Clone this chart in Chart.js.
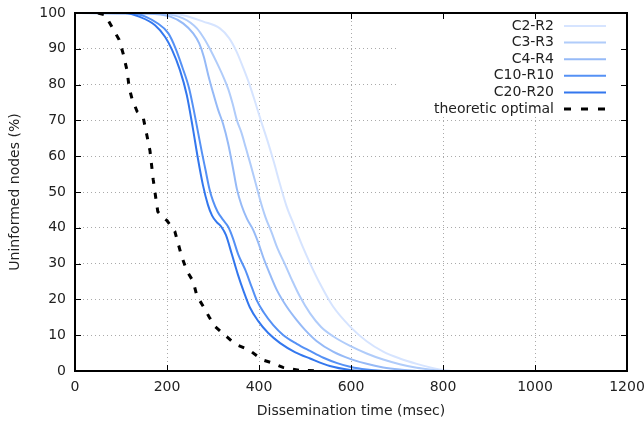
<!DOCTYPE html>
<html>
<head>
<meta charset="utf-8">
<script src="https://cdn.jsdelivr.net/npm/chart.js@4.4.1/dist/chart.umd.min.js"></script>
<style>
  html, body { margin: 0; padding: 0; background: #fff; }
</style>
</head>
<body>
<canvas id="dissChart" width="644" height="426"></canvas>
<script>
// [time (msec), uninformed nodes (%)]
var c2r2 = [[0,100],[180,99.9],[235,99.4],[279,97.6],[315,95.7],[335,93],[351,89.3],[366,84.6],[380,79.8],[392,75],[404,70],[418,64.5],[432,58.5],[446,52],[460,46],[477,40.5],[494,35],[512,29.8],[533,24.3],[561,18],[598,12.4],[634,8.3],[670,5.4],[706,3.5],[743,2],[779,0.8],[800,0.3],[820,0]];
var c3r3 = [[0,100],[170,99.9],[235,98.5],[265,95.7],[280,93],[294,89.8],[308,86.2],[322,82.3],[333,78.8],[343,74.5],[352,70],[362,66.5],[371,62.5],[381,58],[391,53.3],[402,48],[414,43],[428,38.5],[440,34.3],[455,30.2],[471,25.6],[489,20.8],[511,16.1],[535,12.3],[561,9.7],[598,7],[634,4.9],[670,3.2],[706,1.9],[743,0.9],[779,0.3],[800,0]];
var c4r4 = [[0,100],[150,99.8],[207,99],[235,97.1],[257,94.3],[270,91.5],[280,87.8],[290,82.5],[300,77.8],[311,73],[322,69],[333,63.5],[343,57],[352,50.8],[362,46.3],[374,42.5],[387,39.5],[398,36],[410,31.5],[424,27],[440,22.3],[460,18],[482,14.2],[500,11.5],[525,8.4],[561,5.4],[598,3.4],[634,2],[670,1],[706,0.4],[743,0]];
var c10r10 = [[0,100],[123,99.9],[181,97],[203,94.3],[219,90],[233,85],[248,79],[258,73],[267,67],[276,61],[284,56],[292,51],[300,47.5],[310,44.5],[322,42.2],[333,40.3],[343,37.2],[355,32.5],[370,28.3],[384,23.5],[396,19.5],[410,16.4],[431,12.8],[453,10],[482,7.6],[511,5.6],[540,3.7],[570,2.2],[600,1.1],[634,0.4],[670,0]];
var c20r20 = [[0,100],[109,100],[141,98.9],[174,96.6],[196,93.3],[211,89.7],[228,84.1],[243,77.1],[256,68],[267,59.5],[278,52],[289,46.4],[298,43.4],[308,41.6],[318,40.3],[328,38],[341,32.6],[354,27],[367,22.1],[380,17.8],[398,14],[420,10.6],[446,7.8],[478,5.3],[511,3.5],[554,1.4],[598,0.3],[630,0]];
var theoretic = [[50,100],[65,99.5],[83,95.5],[96,92.5],[105,88.5],[113,84],[118,79],[124,76],[135,72.5],[148,71],[156,66],[163,61.5],[170,53.5],[176,48],[180,44.5],[190,43],[200,42],[217,39],[232,32],[243,28],[257,25],[265,21],[279,18],[292,15],[304,12.5],[326,10],[348,7.5],[377,6],[398,4],[410,3],[428,2.3],[452,1],[489,0.2],[530,0]];

var seriesNames = ['C2-R2', 'C3-R3', 'C4-R4', 'C10-R10', 'C20-R20', 'theoretic optimal'];
var seriesData = [c2r2, c3r3, c4r4, c10r10, c20r20, theoretic];
var seriesColors = ['rgb(214,228,255)', 'rgb(176,204,250)', 'rgb(150,186,247)', 'rgb(85,145,245)', 'rgb(51,119,238)', '#000'];

var xTicks = [0, 200, 400, 600, 800, 1000, 1200];
var yTicks = [0, 10, 20, 30, 40, 50, 60, 70, 80, 90, 100];

var FONT = 'DejaVu Sans';
var FSIZE = 14;

function toPoints(arr) {
  return arr.map(function(p) { return {x: p[0], y: p[1]}; });
}

var datasets = seriesData.map(function(arr, i) {
  var dashed = i === seriesData.length - 1;
  return {
    label: seriesNames[i],
    data: toPoints(arr),
    borderColor: seriesColors[i],
    backgroundColor: seriesColors[i],
    borderWidth: dashed ? 3 : 2,
    borderDash: dashed ? [6, 9] : [],
    fill: false,
    pointRadius: 0,
    tension: 0,
    cubicInterpolationMode: dashed ? 'default' : 'monotone'
  };
}).reverse();

// gnuplot-like frame, inward ticks and key inside the plot
var framePlugin = {
  id: 'frame',
  beforeDatasetsDraw: function(chart) {
    var ctx = chart.ctx, a = chart.chartArea;
    ctx.save();
    ctx.fillStyle = '#fff';
    ctx.fillRect(a.right - 228, a.top, 228, 104);
    ctx.restore();
  },
  afterDatasetsDraw: function(chart) {
    var ctx = chart.ctx, a = chart.chartArea;
    var xs = chart.scales.x, ys = chart.scales.y;
    ctx.save();
    ctx.strokeStyle = '#000';
    ctx.lineWidth = 1;
    ctx.beginPath();
    xTicks.forEach(function(v) {
      var px = Math.round(xs.getPixelForValue(v)) + 0.5;
      ctx.moveTo(px, a.bottom); ctx.lineTo(px, a.bottom - 6);
      ctx.moveTo(px, a.top); ctx.lineTo(px, a.top + 6);
    });
    yTicks.forEach(function(v) {
      var py = Math.round(ys.getPixelForValue(v)) + 0.5;
      ctx.moveTo(a.left, py); ctx.lineTo(a.left + 6, py);
      ctx.moveTo(a.right, py); ctx.lineTo(a.right - 6, py);
    });
    ctx.stroke();
    ctx.lineWidth = 2;
    ctx.strokeRect(a.left, a.top, a.right - a.left, a.bottom - a.top);

    // key
    ctx.font = FSIZE + 'px "' + FONT + '"';
    ctx.textAlign = 'right';
    ctx.textBaseline = 'middle';
    var textRight = a.right - 73, lineStart = a.right - 63, lineEnd = a.right - 21;
    seriesNames.forEach(function(name, i) {
      var y = a.top + 13 + i * 16.6;
      ctx.fillStyle = '#222';
      ctx.fillText(name, textRight, y);
      var last = i === seriesNames.length - 1;
      ctx.strokeStyle = seriesColors[i];
      ctx.lineWidth = last ? 3 : 2;
      ctx.setLineDash(last ? [7, 10] : []);
      ctx.beginPath();
      ctx.moveTo(lineStart, y); ctx.lineTo(lineEnd, y);
      ctx.stroke();
    });
    ctx.restore();
  }
};

var ctx_live = document.getElementById('dissChart');
var chart = new Chart(ctx_live, {
  type: 'line',
  data: { datasets: datasets },
  plugins: [framePlugin],
  options: {
    responsive: false,
    animation: false,
    layout: { padding: { top: 13, right: 17, left: 0, bottom: 0 } },
    plugins: {
      legend: { display: false },
      tooltip: { enabled: false }
    },
    scales: {
      x: {
        type: 'linear',
        min: 0,
        max: 1200,
        afterBuildTicks: function(scale) { scale.ticks = xTicks.map(function(v) { return {value: v}; }); },
        afterFit: function(scale) { scale.height = 55; scale.paddingLeft = 0; scale.paddingRight = 0; },
        ticks: { color: '#222', padding: 8, maxRotation: 0, font: { family: FONT, size: FSIZE },
                 callback: function(v) { return String(v); } },
        grid: { color: '#aaa', drawTicks: false, tickLength: 0 },
        border: { display: false, dash: [1, 3] },
        title: { display: true, text: 'Dissemination time (msec)', color: '#222', font: { family: FONT, size: FSIZE }, padding: { top: 0, bottom: 6 } }
      },
      y: {
        type: 'linear',
        min: 0,
        max: 100,
        afterBuildTicks: function(scale) { scale.ticks = yTicks.map(function(v) { return {value: v}; }); },
        afterFit: function(scale) { scale.width = 75; scale.paddingTop = 0; scale.paddingBottom = 0; },
        ticks: { color: '#222', padding: 9, font: { family: FONT, size: FSIZE },
                 callback: function(v) { return String(v); } },
        grid: { color: '#aaa', drawTicks: false, tickLength: 0 },
        border: { display: false, dash: [1, 3] },
        title: { display: true, text: 'Uninformed nodes (%)', color: '#222', font: { family: FONT, size: FSIZE }, padding: { top: 7, bottom: 0 } }
      }
    }
  }
});
</script>
</body>
</html>
